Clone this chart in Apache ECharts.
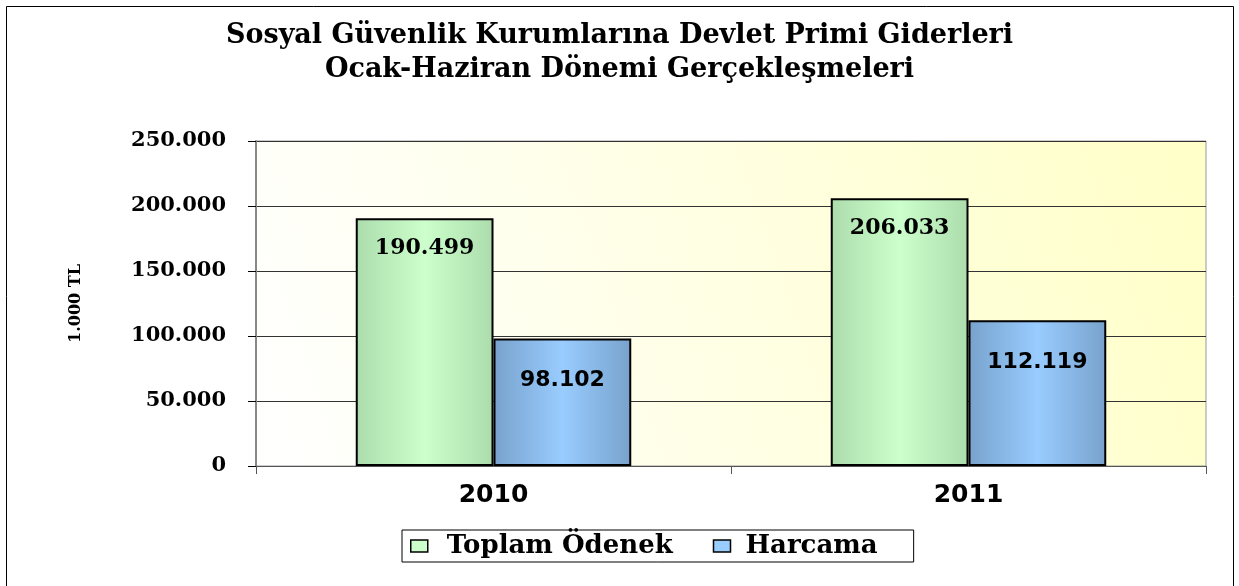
<!DOCTYPE html>
<html>
<head>
<meta charset="utf-8">
<script src="https://cdn.jsdelivr.net/npm/echarts@6/dist/echarts.min.js"></script>
<style>
  html, body { margin: 0; padding: 0; background: #fff; }
  #chart { width: 1239px; height: 586px; }
</style>
</head>
<body>
<div id="chart"></div>
<script>
// veriler (1.000 TL)
var years = ['2010', '2011']
var toplamOdenek = [190499, 206033]
var harcama = [98102, 112119]
var seriesNames = ['Toplam Ödenek', 'Harcama']

function fmt(v) {
  return String(v).replace(/\B(?=(\d{3})+(?!\d))/g, '.')
}

function barGrad(edge, mid) {
  return new echarts.graphic.LinearGradient(0, 0, 1, 0, [
    { offset: 0, color: edge },
    { offset: 0.5, color: mid },
    { offset: 1, color: edge }
  ])
}

var chart = echarts.init(document.getElementById('chart'))
var serif = '"DejaVu Serif", "Times New Roman", serif'
var sans = '"DejaVu Sans", Arial, sans-serif'

var option = {
  backgroundColor: '#fff',
  animation: false,
  graphic: [{
    type: 'rect',
    shape: { x: 6.5, y: 6.5, width: 1227, height: 600 },
    style: { fill: 'none', stroke: '#000', lineWidth: 1 },
    silent: true
  }],
  title: {
    text: 'Sosyal Güvenlik Kurumlarına Devlet Primi Giderleri\nOcak-Haziran Dönemi Gerçekleşmeleri',
    left: 'center',
    top: 14,
    textStyle: {
      fontFamily: serif,
      fontWeight: 'bold',
      fontSize: 27,
      lineHeight: 34,
      color: '#000'
    }
  },
  legend: {
    data: [
      { name: seriesNames[0], itemStyle: { color: '#ccffcc', borderColor: '#000', borderWidth: 1.5 } },
      { name: seriesNames[1], itemStyle: { color: '#99ccff', borderColor: '#000', borderWidth: 1.5 } }
    ],
    bottom: 24,
    left: 402,
    orient: 'horizontal',
    borderColor: '#000',
    borderWidth: 1,
    padding: [3, 36, 3, 8],
    itemWidth: 17,
    itemHeight: 12,
    itemGap: 40,
    icon: 'rect',
    formatter: function (name) {
      return name === seriesNames[0] ? '{a|' + name + '}' : '{b|' + name + '}'
    },
    textStyle: {
      fontFamily: serif,
      fontWeight: 'bold',
      fontSize: 26,
      color: '#000',
      rich: {
        a: { fontFamily: serif, fontWeight: 'bold', fontSize: 26, padding: [0, 0, 0, 14] },
        b: { fontFamily: serif, fontWeight: 'bold', fontSize: 26, padding: [0, 0, 0, 10] }
      }
    }
  },
  grid: {
    left: 256,
    right: 33,
    top: 141,
    bottom: 120,
    show: true,
    borderColor: '#999',
    borderWidth: 1,
    backgroundColor: new echarts.graphic.LinearGradient(0, 1, 1, 0, [
      { offset: 0, color: '#ffffff' },
      { offset: 1, color: '#ffffc8' }
    ])
  },
  xAxis: {
    type: 'category',
    data: years,
    axisLine: { lineStyle: { color: '#555', width: 1 } },
    axisTick: { show: true, alignWithLabel: false, length: 8, lineStyle: { color: '#555' } },
    axisLabel: {
      fontFamily: sans,
      fontWeight: 'bold',
      fontSize: 25,
      color: '#000',
      margin: 17
    }
  },
  yAxis: {
    type: 'value',
    min: 0,
    max: 250000,
    interval: 50000,
    name: '1.000 TL',
    nameLocation: 'middle',
    nameGap: 172,
    nameTextStyle: {
      fontFamily: serif,
      fontWeight: 'bold',
      fontSize: 16,
      color: '#000'
    },
    axisLine: { show: true, lineStyle: { color: '#888', width: 2 } },
    axisTick: { show: true, length: 8, lineStyle: { color: '#000' } },
    splitLine: { lineStyle: { color: '#333', width: 1 } },
    axisLabel: {
      formatter: fmt,
      fontFamily: serif,
      fontWeight: 'bold',
      fontSize: 21,
      color: '#000',
      margin: 30
    }
  },
  series: [
    {
      name: seriesNames[0],
      type: 'bar',
      data: toplamOdenek,
      barGap: '0%',
      barCategoryGap: '42%',
      itemStyle: {
        color: barGrad('#acdcac', '#ccffcc'),
        borderColor: '#000',
        borderWidth: 2
      },
      label: {
        show: true,
        position: 'insideTop',
        distance: 19,
        formatter: function (p) { return fmt(p.value) },
        fontFamily: serif,
        fontWeight: 'bold',
        fontSize: 22,
        color: '#000'
      }
    },
    {
      name: seriesNames[1],
      type: 'bar',
      data: harcama,
      itemStyle: {
        color: barGrad('#78a2cc', '#99ccff'),
        borderColor: '#000',
        borderWidth: 2
      },
      label: {
        show: true,
        position: 'insideTop',
        distance: 31,
        formatter: function (p) { return fmt(p.value) },
        fontFamily: sans,
        fontWeight: 'bold',
        fontSize: 22,
        color: '#000'
      }
    }
  ]
}

chart.setOption(option)
</script>
</body>
</html>
